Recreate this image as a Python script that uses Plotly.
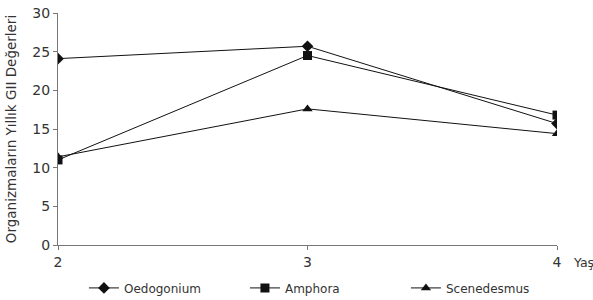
import plotly.graph_objects as go

years = [2, 3, 4]
oedogonium = [24.1, 25.7, 15.7]
amphora = [11.0, 24.5, 16.8]
scenedesmus = [11.4, 17.6, 14.4]
y_ticks = [0, 5, 10, 15, 20, 25, 30]

fig = go.Figure()
series = [
    ("Oedogonium", oedogonium, "diamond", 9),
    ("Amphora", amphora, "square", 9),
    ("Scenedesmus", scenedesmus, "triangle-up", 9),
]
for name, vals, sym, sz in series:
    fig.add_trace(go.Scatter(
        x=years, y=vals, name=name, mode="lines+markers",
        line=dict(color="#111111", width=1),
        marker=dict(symbol=sym, size=sz, color="#111111"),
    ))

font = "DejaVu Sans, Verdana, sans-serif"
fig.update_layout(
    width=593, height=300,
    margin=dict(l=58, r=36, t=13, b=55, autoexpand=False),
    plot_bgcolor="white", paper_bgcolor="white",
    font=dict(family=font, size=13, color="#333333"),
    showlegend=True,
    legend=dict(orientation="h", x=0.052, y=-0.185, xanchor="left", yanchor="middle",
                entrywidth=116, entrywidthmode="pixels",
                font=dict(size=12, color="#333333")),
    xaxis=dict(range=[2, 4], tickvals=years, ticks="outside", ticklen=4,
               showline=True, linecolor="#777777", linewidth=1, showgrid=False,
               zeroline=False, tickcolor="#777777", tickfont=dict(size=14)),
    yaxis=dict(range=[0, 30], tickvals=y_ticks, ticks="outside", ticklen=4,
               showline=True, linecolor="#777777", linewidth=1, showgrid=False,
               zeroline=False, tickcolor="#777777", tickfont=dict(size=14),
               title=dict(text="Organizmaların Yıllık GII Değerleri", font=dict(size=13.5), standoff=12)),
)
fig.add_annotation(text="Yaş", xref="paper", yref="paper", x=1.028, y=-0.035,
                   xanchor="left", yanchor="top", showarrow=False,
                   font=dict(size=12.5, color="#333333"))
fig.write_html("out.html", config={"displayModeBar": False},
               post_script="document.body.style.margin='0';")
